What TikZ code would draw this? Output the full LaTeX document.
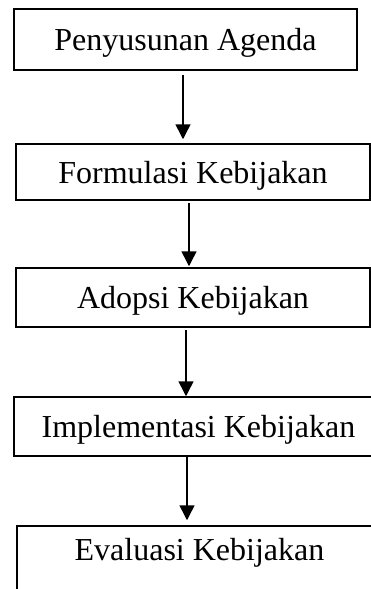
\documentclass[tikz,border=0pt]{standalone}
\usepackage{fontspec}
\setmainfont{Liberation Serif}
\usetikzlibrary{arrows.meta}

\begin{document}
\begin{tikzpicture}[x=1pt, y=-1pt, every node/.style={rectangle, draw, line width=1.5pt, inner sep=0pt, text height=22pt, text depth=0pt, font=\fontsize{32}{38}\selectfont}]
\useasboundingbox (0,0) rectangle (371,589);
\clip (0,0) rectangle (371,589);
\node[minimum width=343pt, minimum height=61pt] (N0) at (185.5,39.5) {Penyusunan Agenda};
\node[minimum width=354pt, minimum height=56pt] (N1) at (193,172) {Formulasi Kebijakan};
\node[minimum width=354pt, minimum height=59pt] (N2) at (193,297.5) {Adopsi Kebijakan};
\node[minimum width=369pt, minimum height=59pt] (N3) at (198.5,426.5) {Implementasi Kebijakan};
\node[minimum width=365pt, minimum height=70pt, text depth=24pt] (N4) at (199.5,561) {Evaluasi Kebijakan};
\draw[-{Triangle[length=15pt,width=15pt]}, line width=1.5pt, shorten <=4pt, shorten >=4pt] ([xshift=-2.5pt]N0.south) -- ([xshift=-10pt]N1.north);
\draw[-{Triangle[length=15pt,width=15pt]}, line width=1.5pt, shorten <=2pt, shorten >=1pt] ([xshift=-4pt]N1.south) -- ([xshift=-4pt]N2.north);
\draw[-{Triangle[length=15pt,width=15pt]}, line width=1.5pt, shorten <=2pt] ([xshift=-7pt]N2.south) -- ([xshift=-12.5pt]N3.north);
\draw[-{Triangle[length=15pt,width=15pt]}, line width=1.5pt, shorten <=0pt, shorten >=5pt] ([xshift=-11.5pt]N3.south) -- ([xshift=-12.5pt]N4.north);
\end{tikzpicture}
\end{document}
